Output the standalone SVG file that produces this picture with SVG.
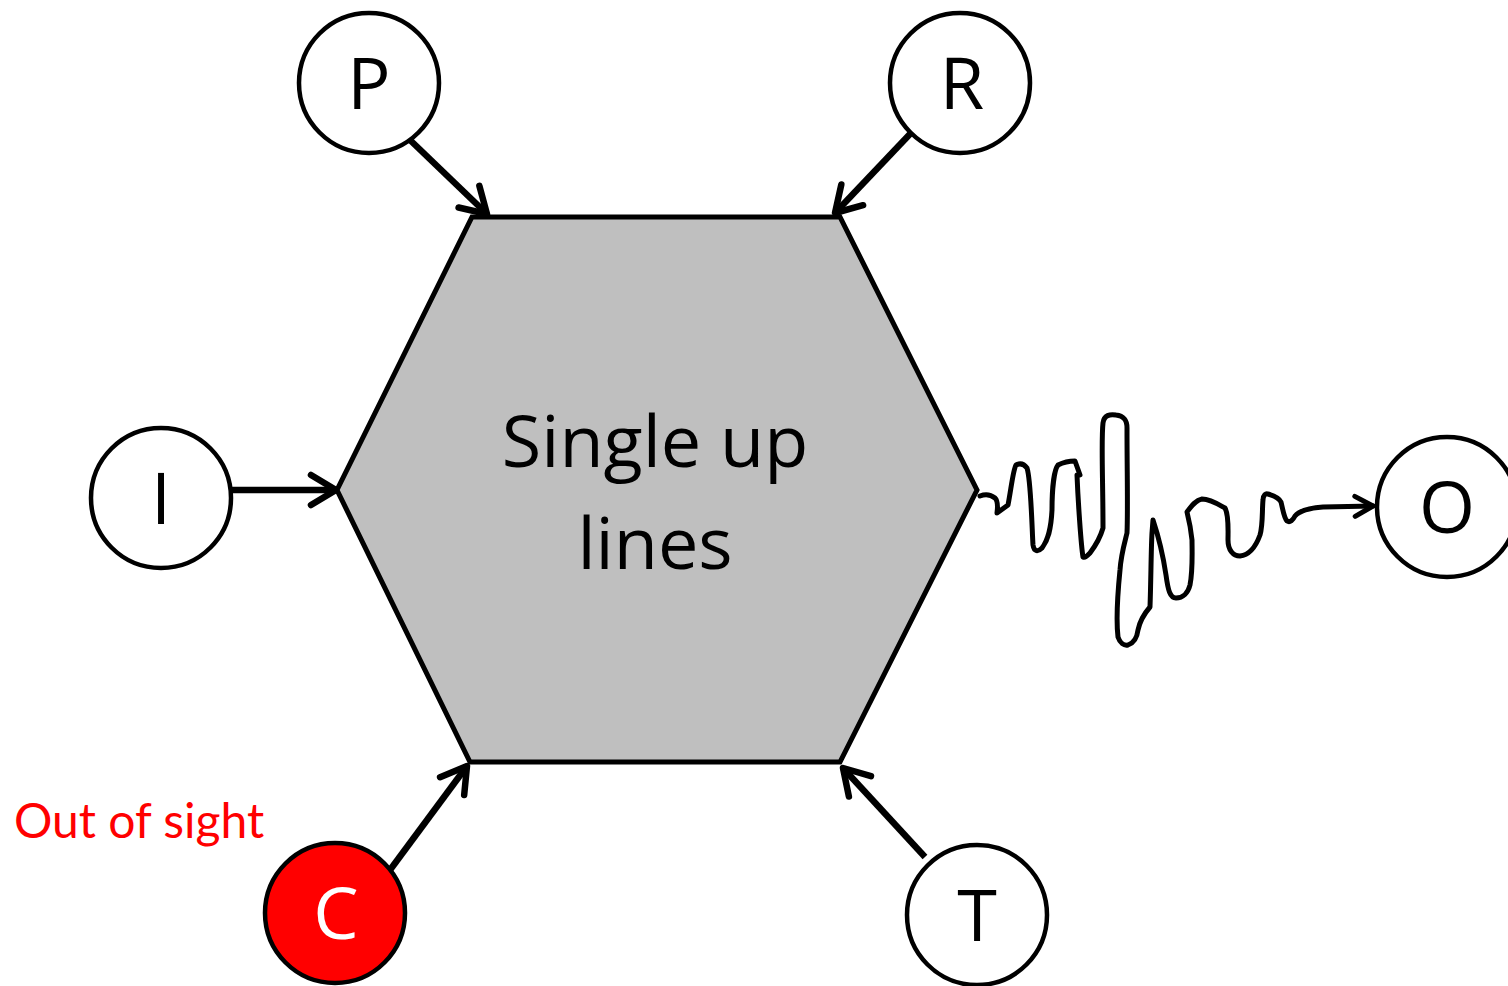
<svg xmlns="http://www.w3.org/2000/svg" width="1508" height="986" viewBox="0 0 1508 986">
<style>
.node{fill:#fff;stroke:#000;stroke-width:4.5}
.lbl{font-family:"Open Sans","Noto Sans",sans-serif;font-size:72px;fill:#000;text-anchor:middle}
.conn{stroke:#000;stroke-width:6.5;fill:none;marker-end:url(#ah)}
</style>
<defs>
<marker id="ah" markerUnits="userSpaceOnUse" orient="auto" markerWidth="60" markerHeight="60" refX="0" refY="0" viewBox="-35 -30 60 60" overflow="visible">
<path d="M-25,-15 L0,0 L-25,15" fill="none" stroke="#000" stroke-width="6.5" stroke-linecap="round" stroke-linejoin="round"/>
</marker>
<marker id="ahs" markerUnits="userSpaceOnUse" orient="auto" markerWidth="40" markerHeight="40" viewBox="-25 -20 40 40" overflow="visible">
<path d="M-18,-10 L0,0 L-18,10" fill="none" stroke="#000" stroke-width="5" stroke-linecap="round" stroke-linejoin="round"/>
</marker>
</defs>
<rect width="1508" height="986" fill="#fff"/>
<g id="hex">
<polygon points="472,217 840,217 977,490 840,762 470,762 337,490" fill="#bfbfbf" stroke="#000" stroke-width="5"/>
<text class="lbl" x="655" y="467" font-size="74">Single up</text>
<text class="lbl" x="655" y="569" font-size="74">lines</text>
</g>
<g id="connectors">
<line class="conn" x1="410" y1="140" x2="487" y2="214"/>
<line class="conn" x1="910" y1="134" x2="835" y2="213"/>
<line class="conn" x1="231" y1="490" x2="336" y2="490"/>
<line class="conn" x1="390" y1="870" x2="467" y2="766"/>
<line class="conn" x1="925" y1="857" x2="843" y2="768"/>
<path d="M980,496 C985,494 990,494 995,498 C999,502 997,512 997,513 L1008,505 C1011,490 1013,470 1016,465 C1020,463 1024,464 1027,468 C1031,480 1032,530 1033,545 C1034,552 1038,552 1042,548 C1048,540 1051,530 1052,510 C1052,490 1054,470 1058,465 C1064,462 1070,461 1075,461 L1080,475 L1077,475 C1078,500 1081,545 1083,557 C1085,558 1087,556 1090,553 C1096,545 1101,535 1103,528 C1103,480 1101,440 1103,423 C1104,415 1110,414 1116,415 C1124,416 1127,420 1127,428 C1127,470 1128,510 1127,533 C1124,545 1121,555 1120,570 C1118,590 1116,620 1118,637 C1120,643 1124,646 1128,645 C1134,643 1137,638 1138,630 C1140,620 1144,614 1150,607 C1151,580 1151,550 1152,533 L1153,520 C1158,535 1163,555 1166,575 C1168,590 1170,598 1176,598 C1183,598 1188,593 1190,585 C1193,570 1192,550 1192,540 C1191,530 1189,520 1187,512 C1192,505 1196,500 1202,499 C1210,499 1218,504 1225,508 C1229,515 1228,530 1228,540 C1228,550 1233,556 1240,556 C1250,555 1256,546 1260,535 C1263,525 1262,510 1263,500 C1263,495 1266,493 1268,494 C1275,496 1279,498 1281,502 C1283,510 1284,518 1287,521 C1290,523 1293,520 1295,516 C1300,510 1310,508 1323,507 L1373,506" fill="none" stroke="#000" stroke-width="5" stroke-linecap="round" stroke-linejoin="round" marker-end="url(#ahs)"/>
</g>
<g id="P"><circle class="node" cx="369" cy="83" r="70"/><text class="lbl" x="369" y="109">P</text></g>
<g id="R"><circle class="node" cx="960" cy="83" r="70"/><text class="lbl" x="962" y="109">R</text></g>
<g id="I"><circle class="node" cx="161" cy="498" r="70"/><text class="lbl" x="161" y="524">I</text></g>
<g id="O"><circle class="node" cx="1447" cy="507" r="70"/><text class="lbl" x="1447" y="533">O</text></g>
<g id="T"><circle class="node" cx="977" cy="915" r="70"/><text class="lbl" x="977" y="941">T</text></g>
<g id="C"><circle class="node" cx="335" cy="913" r="70" style="fill:#ff0000"/><text class="lbl" x="336" y="939" style="fill:#fff">C</text></g>
<g id="note"><text x="14" y="838" font-family="Lato,'Open Sans',sans-serif" font-size="48" fill="#ff0000">Out of sight</text></g>
</svg>
